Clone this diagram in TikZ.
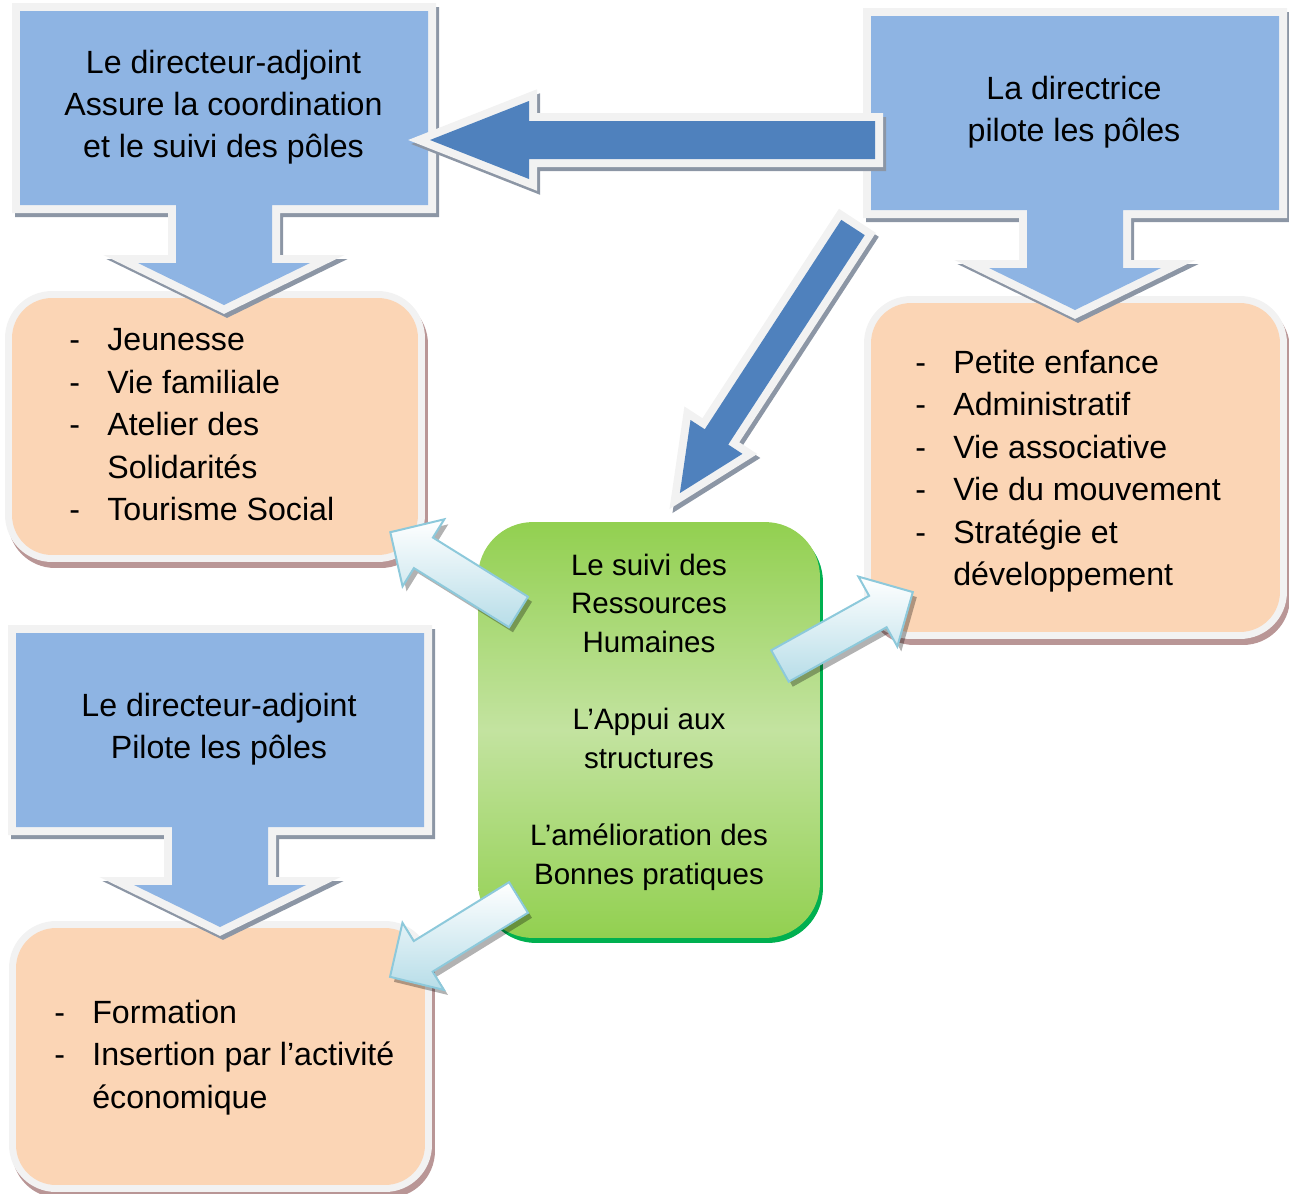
\documentclass[tikz,border=0pt]{standalone}
\usepackage{fontspec}
\setmainfont{Liberation Sans}
\definecolor{calloutblue}{HTML}{8EB4E3}
\definecolor{arrowblue}{HTML}{4F81BD}
\definecolor{rimgray}{HTML}{F2F2F2}
\definecolor{shadowblue}{HTML}{8C96A5}
\definecolor{poleorange}{HTML}{FBD5B5}
\definecolor{boxshadow}{HTML}{B99696}
\definecolor{greenA}{HTML}{92D050}
\definecolor{greenB}{HTML}{C3E3A0}
\definecolor{greenrim}{HTML}{00B050}
\definecolor{arrowcyan}{HTML}{B7DDE8}
\definecolor{arrowrim}{HTML}{8DC9DB}
\newcommand{\dashitem}[1]{\makebox[0.76cm][l]{-}#1}
\tikzset{%
    headbox/.style={fill=calloutblue, line join=miter,
        preaction={draw=shadowblue, fill=shadowblue, line width=0.32cm, transform canvas={shift={(3,4)}}},
        preaction={draw=rimgray, line width=0.32cm}},
    bigarrow/.style={headbox, fill=arrowblue},
    lightarrow/.style={top color=white, bottom color=arrowcyan, draw=arrowrim, line width=0.04cm, line join=miter,
        preaction={fill=black, fill opacity=0.3, transform canvas={shift={(4,5)}}}},
    polebox/.style={rounded corners=0.8cm, fill=poleorange, inner sep=0pt,
        preaction={draw=boxshadow, fill=boxshadow, line width=0.28cm, transform canvas={shift={(3,6)}}},
        preaction={draw=rimgray, line width=0.28cm}},
    rhbox/.style={rounded corners=1.1cm, top color=greenA, bottom color=greenA, middle color=greenB, inner sep=0pt,
        preaction={fill=greenrim, transform canvas={shift={(3,5)}}}},
    bigtxt/.style={font=\fontsize{18.3}{24}\selectfont, align=center, inner sep=0pt},
    listtxt/.style={font=\fontsize{18.3}{24.2}\selectfont, align=left, inner sep=0pt, anchor=west},
    rhtxt/.style={font=\fontsize{16.8}{22}\selectfont, align=center, inner sep=0pt},
    pics/blockarrow/.style n args={5}{code={%
        \path[#5] (0,-#2) -- ({#1-#4},-#2) -- ({#1-#4},-#3) -- (#1,0)
            -- ({#1-#4},#3) -- ({#1-#4},#2) -- (0,#2) -- cycle;
    }},
    pics/headcallout/.style={code={%
        \path[headbox] (0,0) -- (408,0) -- (408,194) -- (252,194) -- (252,252)
            -- (290,252) -- (204,294) -- (118,252) -- (156,252) -- (156,194)
            -- (0,194) -- cycle;
    }}
}
\begin{document}
\begin{tikzpicture}[x=0.02cm, y=-0.02cm]
    \useasboundingbox (0,0) rectangle (1289,1194);
    % poles
    \node[polebox, minimum width=8.12cm, minimum height=5.14cm] (boxA) at (215,426.5) {};
    \node[polebox, minimum width=8.18cm, minimum height=6.58cm] (boxB) at (1075.5,467.5) {};
    \node[polebox, minimum width=8.18cm, minimum height=5.14cm] (boxC) at (220.5,1056.5) {};
    % callouts
    \pic at (20,11) {headcallout};
    \pic at (871,16) {headcallout};
    \pic at (16,633) {headcallout};
    % central box
    \node[rhbox, minimum width=6.84cm, minimum height=8.32cm] (rh) at (649,730) {};
    % arrows
    \pic[rotate=180] at (875,140) {blockarrow={445}{19}{39}{99}{bigarrow}};
    \pic[rotate=236.9] at (853,227.5) {blockarrow={317}{14}{31}{67}{bigarrow}};
    \pic[rotate=148.1] at (518.5,612) {blockarrow={151}{18}{39.5}{39}{lightarrow}};
    \pic[rotate=29.1] at (780,666) {blockarrow={152}{18}{40}{40}{lightarrow}};
    \pic[rotate=211.7] at (518.5,897.5) {blockarrow={151}{18}{39.5}{39}{lightarrow}};
    % texts
    \node[bigtxt] (adjA) at (223.5,107) {Le directeur-adjoint\\Assure la coordination\\et le suivi des pôles};
    \node[bigtxt] (dir) at (1074,112) {La directrice\\pilote les pôles};
    \node[bigtxt] (adjB) at (219,729) {Le directeur-adjoint\\Pilote les pôles};
    \node[listtxt] (listA) at (69,425) {\dashitem{Jeunesse}\\ \dashitem{Vie familiale}\\ \dashitem{Atelier des}\\ \hspace*{0.76cm}Solidarités\\ \dashitem{Tourisme Social}};
    \node[listtxt] (listB) at (915,471) {\dashitem{Petite enfance}\\ \dashitem{Administratif}\\ \dashitem{Vie associative}\\ \dashitem{Vie du mouvement}\\ \dashitem{Stratégie et}\\ \hspace*{0.76cm}développement};
    \node[listtxt] (listC) at (54,1057.5) {\dashitem{Formation}\\ \dashitem{Insertion par l’activité}\\ \hspace*{0.76cm}économique};
    \node[rhtxt] (rhtext) at (649,722) {Le suivi des\\Ressources\\Humaines\\[22pt]L’Appui aux\\structures\\[22pt]L’amélioration des\\Bonnes pratiques};
\end{tikzpicture}
\end{document}
